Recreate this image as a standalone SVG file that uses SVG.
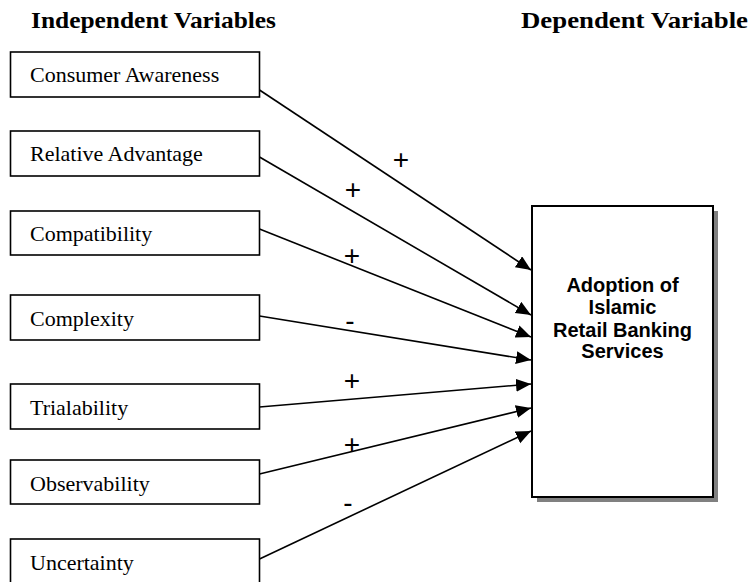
<svg xmlns="http://www.w3.org/2000/svg" width="749" height="582" viewBox="0 0 749 582">
<style>
.hdr{font-family:"Liberation Serif","Times New Roman",serif;font-weight:bold;font-size:24px;fill:#000}
.box{fill:#fff;stroke:#000;stroke-width:1.6}
.lbl{font-family:"Liberation Serif","Times New Roman",serif;font-size:22px;fill:#000}
.big{fill:#fff;stroke:#000;stroke-width:2}
.bigt{font-family:"Liberation Sans",Arial,sans-serif;font-weight:bold;font-size:20px;fill:#000;text-anchor:middle}
.sign{font-family:"Liberation Sans",Arial,sans-serif;font-size:28px;fill:#000;text-anchor:middle}
.conn line{stroke:#000;stroke-width:1.6;marker-end:url(#ah)}
</style>
<defs>
<marker id="ah" markerUnits="userSpaceOnUse" markerWidth="16" markerHeight="14" refX="15" refY="6.5" orient="auto">
<path d="M0,0 L15,6.5 L0,13 z" fill="#000"/>
</marker>
</defs>
<rect width="749" height="582" fill="#fff"/>
<text class="hdr" x="31" y="28" textLength="245" lengthAdjust="spacingAndGlyphs">Independent Variables</text>
<text class="hdr" x="521" y="28" textLength="227" lengthAdjust="spacingAndGlyphs">Dependent Variable</text>

<g id="n1"><rect class="box" x="10.5" y="52" width="249" height="45"/><text class="lbl" x="30" y="82">Consumer Awareness</text></g>
<g id="n2"><rect class="box" x="10.5" y="131" width="249" height="45"/><text class="lbl" x="30" y="161">Relative Advantage</text></g>
<g id="n3"><rect class="box" x="10.5" y="211" width="249" height="44"/><text class="lbl" x="30" y="241">Compatibility</text></g>
<g id="n4"><rect class="box" x="10.5" y="295" width="249" height="45"/><text class="lbl" x="30" y="326">Complexity</text></g>
<g id="n5"><rect class="box" x="10.5" y="384" width="249" height="45"/><text class="lbl" x="30" y="415">Trialability</text></g>
<g id="n6"><rect class="box" x="10.5" y="460" width="249" height="44"/><text class="lbl" x="30" y="491">Observability</text></g>
<g id="n7"><rect class="box" x="10.5" y="539" width="249" height="46"/><text class="lbl" x="30" y="570">Uncertainty</text></g>

<g id="target">
<rect x="537" y="211" width="181" height="291" fill="#808080"/>
<rect class="big" x="532" y="206" width="181" height="291"/>
<text class="bigt" x="622.5" y="292">Adoption of</text>
<text class="bigt" x="622.5" y="314">Islamic</text>
<text class="bigt" x="622.5" y="337">Retail Banking</text>
<text class="bigt" x="622.5" y="358">Services</text>
</g>

<g id="connectors" class="conn">
<line x1="259.5" y1="90" x2="531" y2="270"/>
<line x1="259.5" y1="157" x2="531" y2="315"/>
<line x1="259.5" y1="229" x2="531" y2="337"/>
<line x1="259.5" y1="316" x2="531" y2="360"/>
<line x1="259.5" y1="407" x2="531" y2="384"/>
<line x1="259.5" y1="474" x2="531" y2="408"/>
<line x1="259.5" y1="559" x2="531" y2="431"/>
</g>

<g id="signs">
<text class="sign" x="401" y="169">+</text>
<text class="sign" x="353" y="199">+</text>
<text class="sign" x="352" y="265">+</text>
<text class="sign" x="350" y="330">-</text>
<text class="sign" x="352" y="390">+</text>
<text class="sign" x="352" y="454">+</text>
<text class="sign" x="348" y="512">-</text>
</g>
</svg>
